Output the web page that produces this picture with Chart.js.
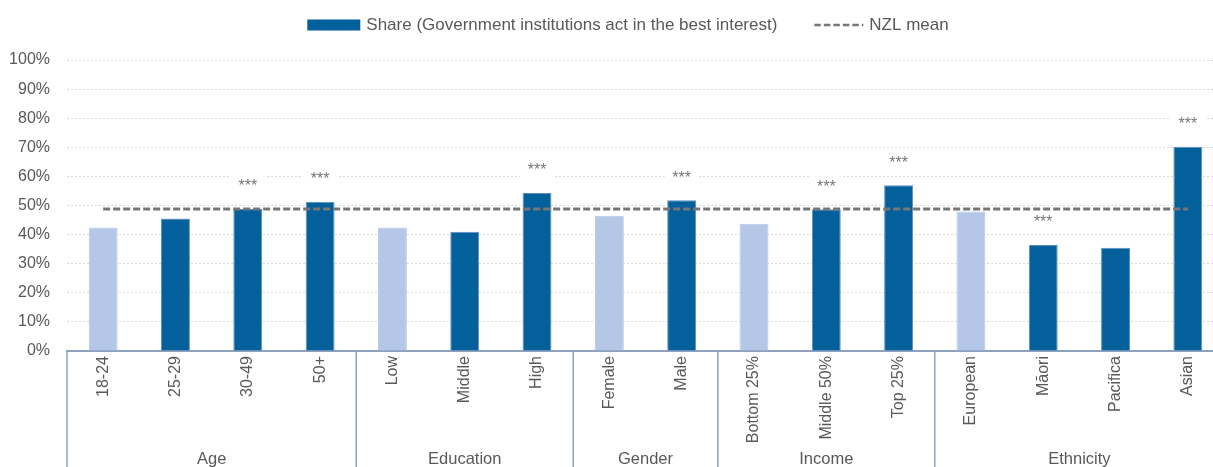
<!DOCTYPE html>
<html><head><meta charset="utf-8">
<script src="https://cdn.jsdelivr.net/npm/chart.js@4"></script>
<style>html,body{margin:0;padding:0;background:#fff;overflow:hidden;width:1213px;height:467px}
canvas{display:block}</style></head>
<body><canvas id="c" width="1224" height="467" style="width:1224px;height:467px"></canvas>
<script>
const categories = ['18-24','25-29','30-49','50+','Low','Middle','High','Female','Male','Bottom 25%','Middle 50%','Top 25%','European','Māori','Pacifica','Asian'];
const groups = ['Age','Education','Gender','Income','Ethnicity'];
const groupSizes = [4,3,2,3,4];
const shareValues = [42.4,45.5,48.8,51.3,42.4,41.0,54.3,46.5,51.8,43.7,48.7,57.0,47.9,36.4,35.5,70.2];
const referenceGroup = [true,false,false,false,true,false,false,true,false,true,false,false,true,false,false,false];
const significance = ['','','***','***','','','***','','***','','***','***','','***','','***'];
const nzlMean = 48.8;
const yTickLabels = ['0%','10%','20%','30%','40%','50%','60%','70%','80%','90%','100%'];
const seriesLabels = ['Share (Government institutions act in the best interest)','NZL mean'];

const FONT = "'Liberation Sans Narrow','Arial Narrow','Liberation Sans',Arial,sans-serif";
const DARK = '#03609B', LIGHT = '#B4C7E7', GREY_TXT = '#595959', MEAN_C = '#767676', AXIS_C = '#8DA2BE';
Chart.defaults.font.family = FONT;
Chart.defaults.font.size = 16;
Chart.defaults.color = GREY_TXT;

const legendPlugin = {
  id: 'customLegend',
  afterDraw(chart) {
    const ctx = chart.ctx;
    ctx.save();
    ctx.font = '17px ' + FONT;
    ctx.textBaseline = 'middle';
    const boxW = [53, 49], gapText = 6, gapItems = 37, y = 25;
    const widths = seriesLabels.map((t, i) => boxW[i] + gapText + ctx.measureText(t).width);
    const total = widths[0] + widths[1] + gapItems;
    let x = 628 - total / 2;
    ctx.fillStyle = DARK;
    ctx.fillRect(x, y - 5.5, boxW[0], 11);
    ctx.fillStyle = GREY_TXT;
    ctx.fillText(seriesLabels[0], x + boxW[0] + gapText, y);
    x += widths[0] + gapItems;
    ctx.strokeStyle = MEAN_C; ctx.lineWidth = 2.5; ctx.setLineDash([6.5, 3]);
    ctx.beginPath(); ctx.moveTo(x, y); ctx.lineTo(x + boxW[1], y); ctx.stroke();
    ctx.setLineDash([]);
    ctx.fillStyle = GREY_TXT;
    ctx.fillText(seriesLabels[1], x + boxW[1] + gapText, y);
    ctx.restore();
  }
};

const groupPlugin = {
  id: 'groupAxis',
  afterDraw(chart) {
    const ctx = chart.ctx, xs = chart.scales.x, area = chart.chartArea;
    const step = xs.getPixelForValue(1) - xs.getPixelForValue(0);
    ctx.save();
    ctx.strokeStyle = AXIS_C; ctx.lineWidth = 1.5;
    ctx.font = '16.5px ' + FONT; ctx.fillStyle = GREY_TXT;
    ctx.textAlign = 'center'; ctx.textBaseline = 'middle';
    let start = 0;
    groups.forEach((g, gi) => {
      const end = start + groupSizes[gi] - 1;
      const left = xs.getPixelForValue(start) - step / 2;
      ctx.beginPath(); ctx.moveTo(left, area.bottom); ctx.lineTo(left, chart.height); ctx.stroke();
      const cx = (xs.getPixelForValue(start) + xs.getPixelForValue(end)) / 2;
      ctx.fillText(g, cx, 459);
      start = end + 1;
    });
    const right = xs.getPixelForValue(start - 1) + step / 2;
    ctx.beginPath(); ctx.moveTo(right, area.bottom); ctx.lineTo(right, chart.height); ctx.stroke();
    ctx.restore();
  }
};

const starPlugin = {
  id: 'stars',
  afterDatasetsDraw(chart) {
    const ctx = chart.ctx, meta = chart.getDatasetMeta(0);
    ctx.save();
    ctx.font = '16px ' + FONT; ctx.textAlign = 'center'; ctx.textBaseline = 'middle';
    meta.data.forEach((bar, i) => {
      if (!significance[i]) return;
      const cy = bar.y - 22;
      ctx.fillStyle = '#FFFFFF';
      ctx.fillRect(bar.x - 17, cy - 11, 34, 22);
      ctx.fillStyle = MEAN_C;
      ctx.fillText(significance[i], bar.x, cy);
    });
    ctx.restore();
  }
};

new Chart(document.getElementById('c'), {
  type: 'bar',
  data: {
    labels: categories,
    datasets: [
      {
        type: 'bar', label: seriesLabels[0], data: shareValues, order: 2,
        backgroundColor: referenceGroup.map(r => r ? LIGHT : DARK),
        borderColor: referenceGroup.map(r => r ? LIGHT : '#5E8FC2'),
        borderWidth: 1,
        categoryPercentage: 1, barPercentage: 0.4
      },
      {
        type: 'line', label: seriesLabels[1], data: categories.map(() => nzlMean), order: 1,
        borderColor: MEAN_C, borderWidth: 3, borderDash: [7, 3],
        pointRadius: 0, fill: false, tension: 0
      }
    ]
  },
  options: {
    responsive: false, animation: false, devicePixelRatio: 1,
    layout: { padding: { top: 60, left: 0, right: 0, bottom: 0 } },
    plugins: { legend: { display: false }, tooltip: { enabled: false } },
    scales: {
      x: {
        offset: true,
        grid: { display: false, drawTicks: false },
        border: { display: true, color: AXIS_C, width: 2 },
        ticks: { color: GREY_TXT, font: { size: 16 }, minRotation: 90, maxRotation: 90, autoSkip: false, padding: 5 },
        afterFit: s => { s.height = 116; }
      },
      y: {
        min: 0, max: 100,
        ticks: { stepSize: 10, color: GREY_TXT, font: { size: 16 }, padding: 17,
          callback: v => yTickLabels[Math.round(v / 10)] },
        grid: { color: '#D9D9D9', lineWidth: 1, drawTicks: false },
        border: { display: false, dash: [2, 2] },
        afterFit: s => { s.width = 67; }
      }
    }
  },
  plugins: [legendPlugin, groupPlugin, starPlugin]
});
</script>
</body></html>
